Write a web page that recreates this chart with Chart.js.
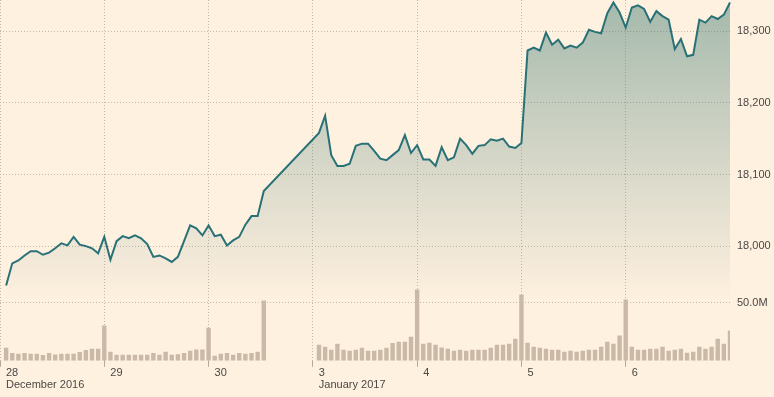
<!DOCTYPE html>
<html>
<head>
<meta charset="utf-8">
<script src="https://cdn.jsdelivr.net/npm/chart.js@4/dist/chart.umd.min.js"></script>
<style>
  body { margin: 0; background: #fff1e0; }
  canvas { display: block; }
</style>
</head>
<body>
<canvas id="chart" width="774" height="397"></canvas>
<script>
// trading days on the x axis, 17 intraday slots each
const days = ["28", "29", "30", "3", "4", "5", "6"];
const months = ["December 2016", "", "", "January 2017", "", "", ""];
const SLOTS = 17;

// index level per slot (Dec 30 stops early, gap until Jan 3)
const priceDec28 = [17945, 17976, 17980, 17987, 17993, 17993, 17988, 17991, 17997, 18004, 18001, 18013, 18002, 18000, 17997, 17990, 18013];
const priceDec29 = [17981, 18007, 18014, 18011, 18015, 18011, 18003, 17985, 17987, 17983, 17978, 17985, 18007, 18029, 18025, 18015, 18029];
const priceDec30 = [18014, 18016, 18001, 18008, 18013, 18030, 18042, 18042, 18077, null, null, null, null, null, null, null, null];
const priceJan3 = [18158, 18182, 18127, 18112, 18112, 18115, 18140, 18143, 18143, 18133, 18122, 18120, 18127, 18134, 18155, 18130, 18141];
const priceJan4 = [18121, 18121, 18112, 18138, 18120, 18124, 18150, 18141, 18129, 18140, 18141, 18149, 18147, 18150, 18139, 18137, 18144];
const priceJan5 = [18273, 18277, 18273, 18298, 18281, 18288, 18276, 18280, 18277, 18284, 18302, 18299, 18297, 18325, 18340, 18326, 18305];
const priceJan6 = [18333, 18336, 18331, 18313, 18328, 18321, 18316, 18275, 18289, 18265, 18267, 18316, 18312, 18321, 18317, 18323, 18340];

// volume in millions per slot
const volDec28 = [11.2, 6.6, 6.0, 6.6, 6.0, 6.0, 4.9, 6.6, 5.4, 6.0, 6.0, 6.0, 7.5, 9.2, 10.3, 10.3, 30.2];
const volDec29 = [7.8, 5.2, 5.2, 5.2, 5.2, 5.2, 5.2, 6.6, 5.2, 7.8, 5.2, 5.7, 6.6, 8.6, 9.8, 9.8, 28.4];
const volDec30 = [4.3, 6.0, 6.6, 5.2, 6.6, 6.0, 6.6, 7.8, 51.7, null, null, null, null, null, null, null, null];
const volJan3 = [13.8, 12.1, 9.5, 14.7, 9.5, 8.6, 9.5, 11.2, 8.6, 8.6, 9.5, 11.2, 15.2, 16.4, 16.4, 20.7, 61.2];
const volJan4 = [14.7, 15.5, 13.8, 11.5, 10.3, 8.6, 9.5, 8.6, 9.5, 9.5, 9.5, 11.2, 13.8, 13.8, 14.7, 19.0, 56.9];
const volJan5 = [15.5, 12.1, 11.2, 10.3, 9.5, 9.5, 7.8, 8.6, 7.8, 8.6, 9.5, 9.5, 12.1, 16.4, 14.7, 21.6, 52.6];
const volJan6 = [12.1, 9.5, 9.5, 10.3, 10.3, 12.1, 8.6, 9.5, 10.3, 6.9, 7.8, 12.1, 10.3, 12.1, 19.0, 14.7, 26.0];

const priceTicks = [18000, 18100, 18200, 18300];
const volumeTicks = [50];

// slot 0 is the opening edge of the first day
const prices = [null].concat(priceDec28, priceDec29, priceDec30, priceJan3, priceJan4, priceJan5, priceJan6);
const volumes = [null].concat(volDec28, volDec29, volDec30, volJan3, volJan4, volJan5, volJan6);
const labels = prices.map((_, i) => String(i));

const gridColor = "#c4b8ab";
const textColor = "#4a4744";
const font = { family: "'Liberation Sans', Arial, sans-serif", size: 11, lineHeight: 1.1 };

const fillGradient = (context) => {
  const { ctx, chartArea } = context.chart;
  if (!chartArea) return null;
  const g = ctx.createLinearGradient(0, chartArea.top, 0, chartArea.bottom);
  g.addColorStop(0, "rgba(45,112,104,0.43)");
  g.addColorStop(0.5, "rgba(45,112,104,0.17)");
  g.addColorStop(0.84, "rgba(45,112,104,0)");
  g.addColorStop(1, "rgba(45,112,104,0)");
  return g;
};

const rightAxis = (width) => (scale) => {
  scale.width = width;
  scale.paddingTop = 0;
  scale.paddingBottom = 0;
};

// the volume axis takes no room of its own; widen it after layout
// so its label is not clipped away
const volumeColumn = {
  id: "volumeColumn",
  afterLayout(chart) {
    const v = chart.scales.volume;
    v.right = chart.width;
    v.width = v.right - v.left;
  },
};

new Chart(document.getElementById("chart"), {
  type: "bar",
  data: {
    labels: labels,
    datasets: [
      {
        type: "line",
        data: prices,
        yAxisID: "price",
        borderColor: "#287177",
        borderWidth: 2,
        pointRadius: 0,
        tension: 0,
        spanGaps: true,
        fill: "start",
        backgroundColor: fillGradient,
        order: 0,
      },
      {
        type: "bar",
        data: volumes,
        yAxisID: "volume",
        backgroundColor: "#cbb9a8",
        categoryPercentage: 1,
        barPercentage: 0.72,
        order: 1,
      },
    ],
  },
  plugins: [volumeColumn],
  options: {
    responsive: false,
    animation: false,
    layout: { padding: { left: 0, right: 0, top: 0, bottom: 6 } },
    plugins: { legend: { display: false }, tooltip: { enabled: false } },
    scales: {
      x: {
        type: "category",
        offset: false,
        afterBuildTicks: (scale) => {
          scale.ticks = days.map((_, d) => ({ value: d * SLOTS }));
        },
        afterFit: (scale) => {
          scale.paddingLeft = 0;
          scale.paddingRight = 0;
        },
        grid: { offset: false, color: gridColor, tickColor: "#b3a89c", tickLength: 6 },
        border: { display: false, dash: [1, 2] },
        ticks: {
          autoSkip: false,
          maxRotation: 0,
          align: "start",
          labelOffset: 6,
          padding: 0,
          color: textColor,
          font: font,
          callback: (value) => {
            const d = Math.round(value / SLOTS);
            return months[d] ? [days[d], months[d]] : days[d];
          },
        },
      },
      volume: {
        position: "right",
        weight: 0,
        min: 0,
        max: 309.5,
        afterBuildTicks: (scale) => {
          scale.ticks = volumeTicks.map((v) => ({ value: v }));
        },
        afterFit: rightAxis(0),
        grid: { color: gridColor, drawTicks: false },
        border: { display: false, dash: [1, 2] },
        ticks: {
          padding: 7,
          color: textColor,
          font: font,
          callback: (v) => v.toFixed(1) + "M",
        },
      },
      price: {
        position: "right",
        weight: 1,
        min: 17840,
        max: 18343.5,
        afterBuildTicks: (scale) => {
          scale.ticks = priceTicks.map((v) => ({ value: v }));
        },
        afterFit: rightAxis(44),
        grid: { color: gridColor, drawTicks: false },
        border: { display: false, dash: [1, 2] },
        ticks: {
          padding: 7,
          color: textColor,
          font: font,
          callback: (v) => v.toLocaleString("en-US"),
        },
      },
    },
  },
});
</script>
</body>
</html>
